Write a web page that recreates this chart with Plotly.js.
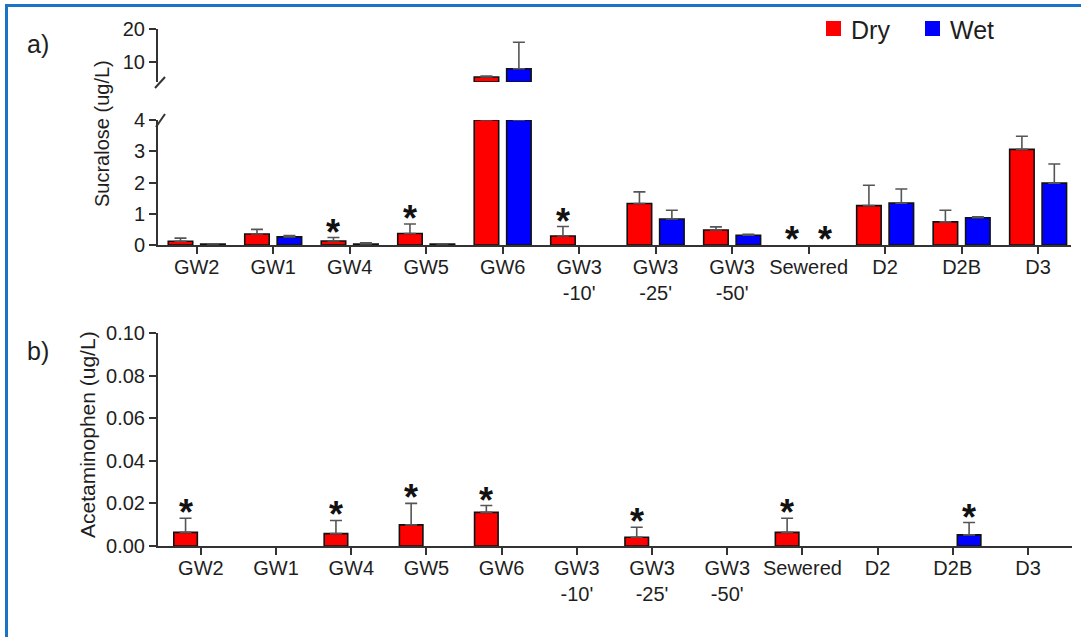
<!DOCTYPE html>
<html>
<head>
<meta charset="utf-8">
<script src="https://cdn.plot.ly/plotly-3.0.1.min.js"></script>
<style>
  html, body { margin: 0; padding: 0; background: #fff; }
  #chart { width: 1081px; height: 637px; }
</style>
</head>
<body>
<div id="chart"></div>
<script>
// ---------- data ----------
const categories = ["GW2", "GW1", "GW4", "GW5", "GW6", "GW3-10'", "GW3-25'", "GW3-50'", "Sewered", "D2", "D2B", "D3"];
const tickLabels = ["GW2", "GW1", "GW4", "GW5", "GW6", "GW3<br>-10'", "GW3<br>-25'", "GW3<br>-50'", "Sewered", "D2", "D2B", "D3"];

// a) Sucralose (ug/L)
const sucraloseDry    = [0.12, 0.35, 0.13, 0.37, 5.5, 0.29, 1.33, 0.48, null, 1.26, 0.74, 3.06];
const sucraloseDryErr = [0.10, 0.15, 0.11, 0.30, 0.3, 0.30, 0.37, 0.10, null, 0.65, 0.37, 0.42];
const sucraloseWet    = [0.03, 0.26, 0.03, 0.03, 8.0, null, 0.83, 0.31, null, 1.34, 0.87, 1.98];
const sucraloseWetErr = [0.01, 0.04, 0.04, 0.01, 8.0, null, 0.28, 0.03, null, 0.45, 0.03, 0.61];
const sucraloseStarsDry = ["GW4", "GW5", "GW3-10'", "Sewered"];
const sucraloseStarsWet = ["Sewered"];

// b) Acetaminophen (ug/L)
const acetaDry    = [0.0064, null, 0.0058, 0.0099, 0.0158, null, 0.0041, null, 0.0064, null, null, null];
const acetaDryErr = [0.0066, null, 0.0062, 0.0101, 0.0032, null, 0.0047, null, 0.0066, null, null, null];
const acetaWet    = [null, null, null, null, null, null, null, null, null, null, 0.0052, null];
const acetaWetErr = [null, null, null, null, null, null, null, null, null, null, 0.0058, null];
const acetaStarsDry = ["GW2", "GW4", "GW5", "GW6", "GW3-25'", "Sewered"];
const acetaStarsWet = ["D2B"];

// ---------- styling ----------
const W = 1081, H = 637;
const px = v => v / W;
const py = v => 1 - v / H;
const RED = "#ff0000", BLUE = "#0000ff";
const AXC = "#333333";
const TXT = "#1e1e1e";
const FONT = "Liberation Sans, Arial, Helvetica, sans-serif";
const breakLow = 4, breakHigh = 4, topMax = 20;

const A = { width: 0.32, offDry: -0.372, offWet: 0.052 };
const B = { width: 0.313, offDry: -0.36, offWet: 0.06 };

function zeros(a) { return a.map(v => v == null ? null : 0); }
function errBar(arr) {
  return { type: "data", symmetric: false, array: arr, arrayminus: zeros(arr),
           color: "#555555", thickness: 1.6, width: 6 };
}
function barTrace(name, yv, err, color, cfg, off, xa, ya, extra) {
  return Object.assign({
    type: "bar", name: name, x: categories, y: yv,
    width: cfg.width, offset: off,
    marker: { color: color, line: { color: "#111", width: 1.6 } },
    error_y: errBar(err), xaxis: xa, yaxis: ya, showlegend: false, hoverinfo: "x+y"
  }, extra || {});
}

// lower segment of a): clipped at break
const lowDry = sucraloseDry.map(v => v == null ? null : Math.min(v, breakLow));
const lowDryErr = sucraloseDry.map((v, i) => v == null ? null : (v > breakLow ? 0 : sucraloseDryErr[i]));
const lowWet = sucraloseWet.map(v => v == null ? null : Math.min(v, breakLow));
const lowWetErr = sucraloseWet.map((v, i) => v == null ? null : (v > breakLow ? 0 : sucraloseWetErr[i]));
// upper segment of a): only values beyond the break, based at the break
const upDry = sucraloseDry.map(v => (v != null && v > breakHigh) ? v - breakHigh : null);
const upDryErr = sucraloseDry.map((v, i) => (v != null && v > breakHigh) ? sucraloseDryErr[i] : null);
const upWet = sucraloseWet.map(v => (v != null && v > breakHigh) ? v - breakHigh : null);
const upWetErr = sucraloseWet.map((v, i) => (v != null && v > breakHigh) ? sucraloseWetErr[i] : null);

const traces = [
  barTrace("Dry", lowDry, lowDryErr, RED, A, A.offDry, "x", "y"),
  barTrace("Wet", lowWet, lowWetErr, BLUE, A, A.offWet, "x", "y"),
  barTrace("Dry", upDry, upDryErr, RED, A, A.offDry, "x", "y2", { base: breakHigh }),
  barTrace("Wet", upWet, upWetErr, BLUE, A, A.offWet, "x", "y2", { base: breakHigh }),
  barTrace("Dry", acetaDry, acetaDryErr, RED, B, B.offDry, "x2", "y3"),
  barTrace("Wet", acetaWet, acetaWetErr, BLUE, B, B.offWet, "x2", "y3")
];

// ---------- annotations ----------
const ann = [];
function stars(list, vals, errs, cfg, off, xref, yref, cap) {
  list.forEach(c => {
    const i = categories.indexOf(c);
    const v = vals[i] == null ? 0 : vals[i];
    const e = errs[i] == null ? 0 : errs[i];
    ann.push({ xref: xref, yref: yref, x: i + off + cfg.width / 2, y: Math.min(v + e, cap),
      text: "<b>*</b>", showarrow: false, yanchor: "bottom", xanchor: "center", yshift: -17,
      font: { family: FONT, size: 36, color: "#111" } });
  });
}
stars(sucraloseStarsDry, sucraloseDry, sucraloseDryErr, A, A.offDry, "x", "y", breakLow);
stars(sucraloseStarsWet, sucraloseWet, sucraloseWetErr, A, A.offWet, "x", "y", breakLow);
stars(acetaStarsDry, acetaDry, acetaDryErr, B, B.offDry, "x2", "y3", 1);
stars(acetaStarsWet, acetaWet, acetaWetErr, B, B.offWet, "x2", "y3", 1);

function label(x, y, text, size, extra) {
  ann.push(Object.assign({ xref: "paper", yref: "paper", x: px(x), y: py(y), text: text,
    showarrow: false, xanchor: "center", yanchor: "middle",
    font: { family: FONT, size: size, color: TXT } }, extra || {}));
}
// panel letters, axis titles, legend
label(38, 44, "a)", 25);
label(38, 351, "b)", 25);
label(102, 134, "Sucralose (ug/L)", 20, { textangle: -90 });
label(87, 435, "Acetaminophen (ug/L)", 21, { textangle: -90 });
label(849, 30, "Dry", 25, { xanchor: "left" });
label(948, 30, "Wet", 25, { xanchor: "left" });

const shapes = [
  // figure frame (top & left)
  { type: "line", xref: "paper", yref: "paper", x0: px(6), x1: px(1081), y0: py(5.5), y1: py(5.5), line: { color: "#1a73c8", width: 3 } },
  { type: "line", xref: "paper", yref: "paper", x0: px(6.5), x1: px(6.5), y0: py(4), y1: py(637), line: { color: "#1a73c8", width: 3 } },
  // legend swatches
  { type: "rect", xref: "paper", yref: "paper", x0: px(826), x1: px(841), y0: py(36), y1: py(21), fillcolor: RED, line: { width: 0 } },
  { type: "rect", xref: "paper", yref: "paper", x0: px(925), x1: px(940), y0: py(36), y1: py(21), fillcolor: BLUE, line: { width: 0 } },
  // axis break marks
  { type: "line", xref: "paper", yref: "paper", x0: px(155), x1: px(165), y0: py(88), y1: py(77), line: { color: AXC, width: 2 } },
  { type: "line", xref: "paper", yref: "paper", x0: px(156), x1: px(165), y0: py(127), y1: py(114), line: { color: AXC, width: 2 } }
];

const axBase = {
  showline: true, linecolor: AXC, linewidth: 2, ticks: "outside", ticklen: 7, tickwidth: 2,
  tickcolor: AXC, showgrid: false, zeroline: false, fixedrange: true,
  tickfont: { family: FONT, size: 20, color: TXT }
};

const layout = {
  width: W, height: H, margin: { l: 0, r: 0, t: 0, b: 0 },
  paper_bgcolor: "#fff", plot_bgcolor: "rgba(0,0,0,0)",
  barmode: "overlay", showlegend: false,
  xaxis: Object.assign({}, axBase, { domain: [px(158), px(1071)], anchor: "y", type: "category",
    range: [-0.506, 11.43], tickvals: categories, ticktext: tickLabels, ticklabelstandoff: -4 }),
  yaxis: Object.assign({}, axBase, { domain: [py(245), py(120)], anchor: "x", range: [0, breakLow],
    tickvals: [0, 1, 2, 3, 4] }),
  yaxis2: Object.assign({}, axBase, { domain: [py(82), py(29)], anchor: "x", range: [breakHigh, topMax],
    tickvals: [10, 20] }),
  xaxis2: Object.assign({}, axBase, { domain: [px(158), px(1072)], anchor: "y3", type: "category",
    range: [-0.57, 11.585], tickvals: categories, ticktext: tickLabels, ticklabelstandoff: -4 }),
  yaxis3: Object.assign({}, axBase, { domain: [py(546), py(333)], anchor: "x2", range: [0, 0.1],
    dtick: 0.02, tickformat: ".2f" }),
  annotations: ann,
  shapes: shapes
};

Plotly.newPlot("chart", traces, layout, { displayModeBar: false, staticPlot: true });
</script>
</body>
</html>
